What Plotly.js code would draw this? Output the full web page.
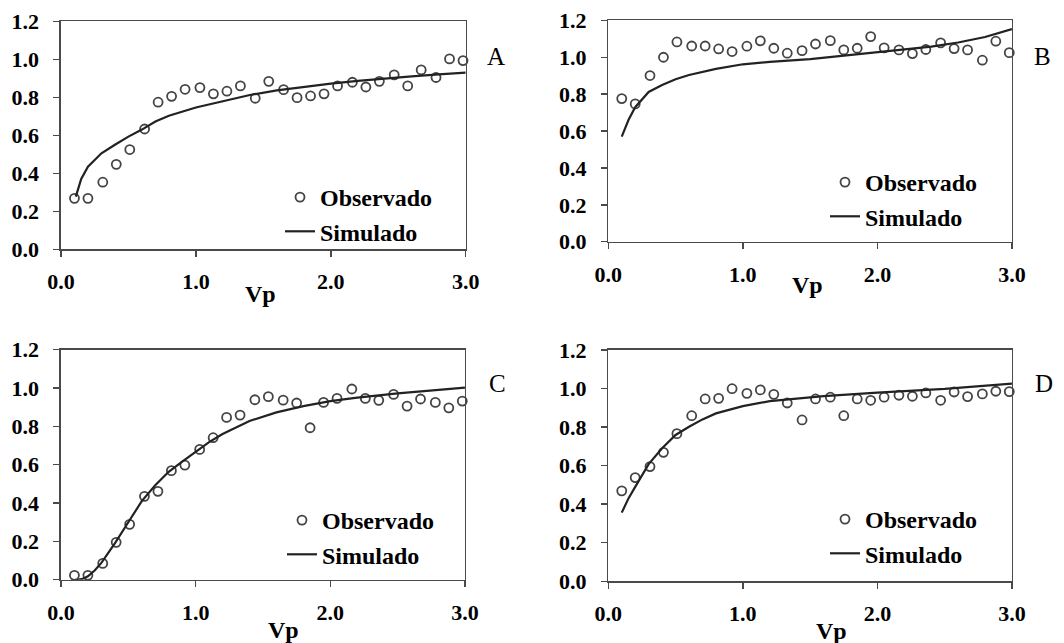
<!DOCTYPE html>
<html>
<head>
<meta charset="utf-8">
<script src="https://cdn.plot.ly/plotly-3.0.1.min.js"></script>
<style>html,body{margin:0;padding:0;background:#fff}#chart{width:1064px;height:643px}</style>
</head>
<body>
<div id="chart"></div>
<script>
// Observed Vp values (shared by all panels)
const vpObs = [0.10,0.20,0.31,0.41,0.51,0.62,0.72,0.82,0.92,1.03,1.13,1.23,1.33,1.44,1.54,1.65,1.75,1.85,1.95,2.05,2.16,2.26,2.36,2.47,2.57,2.67,2.78,2.88,2.98];

// Panel A
const obsA = [0.268,0.268,0.353,0.447,0.525,0.633,0.774,0.805,0.842,0.851,0.818,0.832,0.860,0.795,0.884,0.840,0.798,0.807,0.818,0.860,0.879,0.854,0.884,0.918,0.860,0.944,0.904,1.002,0.993];
const vpSimA = [0.11,0.15,0.20,0.30,0.40,0.50,0.60,0.70,0.80,0.90,1.00,1.20,1.40,1.60,1.80,2.00,2.20,2.40,2.60,2.80,3.00];
const simA = [0.277,0.370,0.435,0.505,0.550,0.593,0.630,0.672,0.703,0.726,0.746,0.779,0.812,0.836,0.855,0.872,0.886,0.899,0.910,0.921,0.930];

// Panel B
const obsB = [0.776,0.747,0.901,1.000,1.083,1.061,1.061,1.045,1.031,1.060,1.089,1.049,1.022,1.036,1.072,1.090,1.040,1.049,1.112,1.051,1.040,1.020,1.042,1.078,1.047,1.040,0.984,1.087,1.025];
const vpSimB = [0.10,0.15,0.20,0.30,0.40,0.50,0.60,0.80,1.00,1.20,1.50,2.00,2.20,2.40,2.60,2.80,3.00];
const simB = [0.570,0.660,0.729,0.812,0.850,0.881,0.904,0.937,0.962,0.975,0.990,1.027,1.040,1.058,1.080,1.110,1.153];

// Panel C
const obsC = [0.023,0.023,0.085,0.195,0.289,0.435,0.461,0.569,0.598,0.680,0.741,0.847,0.859,0.939,0.955,0.937,0.922,0.793,0.925,0.946,0.995,0.946,0.936,0.967,0.906,0.943,0.925,0.897,0.932];
const vpSimC = [0.12,0.16,0.20,0.25,0.30,0.40,0.50,0.60,0.70,0.80,0.90,1.00,1.10,1.20,1.40,1.60,1.80,2.00,2.20,2.50,2.80,3.00];
const simC = [0.000,0.004,0.018,0.048,0.088,0.190,0.300,0.410,0.493,0.563,0.616,0.668,0.718,0.760,0.828,0.873,0.906,0.932,0.950,0.972,0.990,1.002];

// Panel D
const obsD = [0.469,0.538,0.595,0.669,0.766,0.859,0.946,0.949,0.999,0.975,0.993,0.970,0.925,0.837,0.946,0.955,0.859,0.946,0.939,0.955,0.965,0.960,0.977,0.939,0.982,0.958,0.972,0.986,0.984];
const vpSimD = [0.10,0.15,0.20,0.30,0.40,0.50,0.60,0.70,0.80,1.00,1.20,1.40,1.60,2.00,2.50,3.00];
const simD = [0.356,0.430,0.490,0.608,0.690,0.759,0.802,0.840,0.871,0.909,0.935,0.949,0.961,0.979,0.998,1.025];

const panels = ['A','B','C','D'];
const obsSets = [obsA, obsB, obsC, obsD];
const simX = [vpSimA, vpSimB, vpSimC, vpSimD];
const simY = [simA, simB, simC, simD];

const FONT = 'Liberation Serif';
const axisColor = '#4a4a4a';

const traces = [];
const legendIds = ['legend','legend2','legend3','legend4'];
for (let i = 0; i < 4; i++) {
  const ax = i === 0 ? '' : String(i + 1);
  traces.push({
    x: vpObs, y: obsSets[i], xaxis: 'x' + ax, yaxis: 'y' + ax,
    type: 'scatter', mode: 'markers', name: 'Observado', legend: legendIds[i],
    marker: {symbol: 'circle-open', size: 9, color: '#444', line: {width: 1.8, color: '#444'}},
    cliponaxis: false
  });
  traces.push({
    x: simX[i], y: simY[i], xaxis: 'x' + ax, yaxis: 'y' + ax,
    type: 'scatter', mode: 'lines', name: 'Simulado', legend: legendIds[i],
    line: {color: '#222', width: 2.2}
  });
}

const xDomains = [[0.0573,0.4377],[0.5717,0.9511],[0.0573,0.4370],[0.5717,0.9511]];
const yDomains = [[0.6123,0.9669],[0.6241,0.9683],[0.0984,0.4561],[0.0960,0.4557]];

const layout = {
  width: 1064, height: 643,
  margin: {l: 0, r: 0, t: 0, b: 0},
  paper_bgcolor: '#fff', plot_bgcolor: '#fff',
  annotations: []
};

const tickLabelsX = ['0.0','1.0','2.0','3.0'];
const tickValsX = [0,1,2,3];
const tickValsY = [0,0.2,0.4,0.6,0.8,1.0,1.2];
const tickLabelsY = ['0.0','0.2','0.4','0.6','0.8','1.0','1.2'];

for (let i = 0; i < 4; i++) {
  const ax = i === 0 ? '' : String(i + 1);
  layout['xaxis' + ax] = {
    domain: xDomains[i], range: [0, 3], anchor: 'y' + ax,
    tickmode: 'array', tickvals: tickValsX, ticktext: tickLabelsX,
    ticks: 'outside', ticklen: 6, tickwidth: 1.5, tickcolor: axisColor,
    showline: true, linecolor: axisColor, linewidth: 1.5, mirror: true,
    showgrid: false, zeroline: false, ticklabelstandoff: 6,
    tickfont: {family: FONT, size: 22, weight: 'bold', color: '#000'}
  };
  layout['yaxis' + ax] = {
    domain: yDomains[i], range: [0, 1.2], anchor: 'x' + ax,
    tickmode: 'array', tickvals: tickValsY, ticktext: tickLabelsY,
    ticks: 'outside', ticklen: 6, tickwidth: 1.5, tickcolor: axisColor,
    showline: true, linecolor: axisColor, linewidth: 1.5, mirror: true,
    showgrid: false, zeroline: false, ticklabelstandoff: 10,
    tickfont: {family: FONT, size: 22, weight: 'bold', color: '#000'}
  };
}

// legends
const legendPos = [[280, 175], [825, 160], [282, 498], [825, 497]];
for (let i = 0; i < 4; i++) {
  layout[legendIds[i]] = {
    x: legendPos[i][0] / 1064, y: 1 - legendPos[i][1] / 643,
    xanchor: 'left', yanchor: 'top',
    bgcolor: 'rgba(0,0,0,0)', borderwidth: 0,
    font: {family: FONT, size: 24, weight: 'bold', color: '#000'},
    tracegroupgap: 0
  };
}

// panel letters
const letterPos = [[496, 56], [1042, 56], [497, 383], [1044, 383]];
for (let i = 0; i < 4; i++) {
  layout.annotations.push({
    text: panels[i], xref: 'paper', yref: 'paper',
    x: letterPos[i][0] / 1064, y: 1 - letterPos[i][1] / 643,
    xanchor: 'center', yanchor: 'middle', showarrow: false,
    font: {family: FONT, size: 25, color: '#000'}
  });
}

// axis titles "Vp"
const vpPos = [[1.48, 294], [1.48, 285], [1.65, 630], [1.66, 631]];
for (let i = 0; i < 4; i++) {
  const ax = i === 0 ? '' : String(i + 1);
  layout.annotations.push({
    text: 'Vp', xref: 'x' + ax, yref: 'paper',
    x: vpPos[i][0], y: 1 - vpPos[i][1] / 643,
    xanchor: 'center', yanchor: 'middle', showarrow: false,
    font: {family: FONT, size: 24, weight: 'bold', color: '#000'}
  });
}

Plotly.newPlot('chart', traces, layout, {displayModeBar: false, staticPlot: true});
</script>
</body>
</html>
